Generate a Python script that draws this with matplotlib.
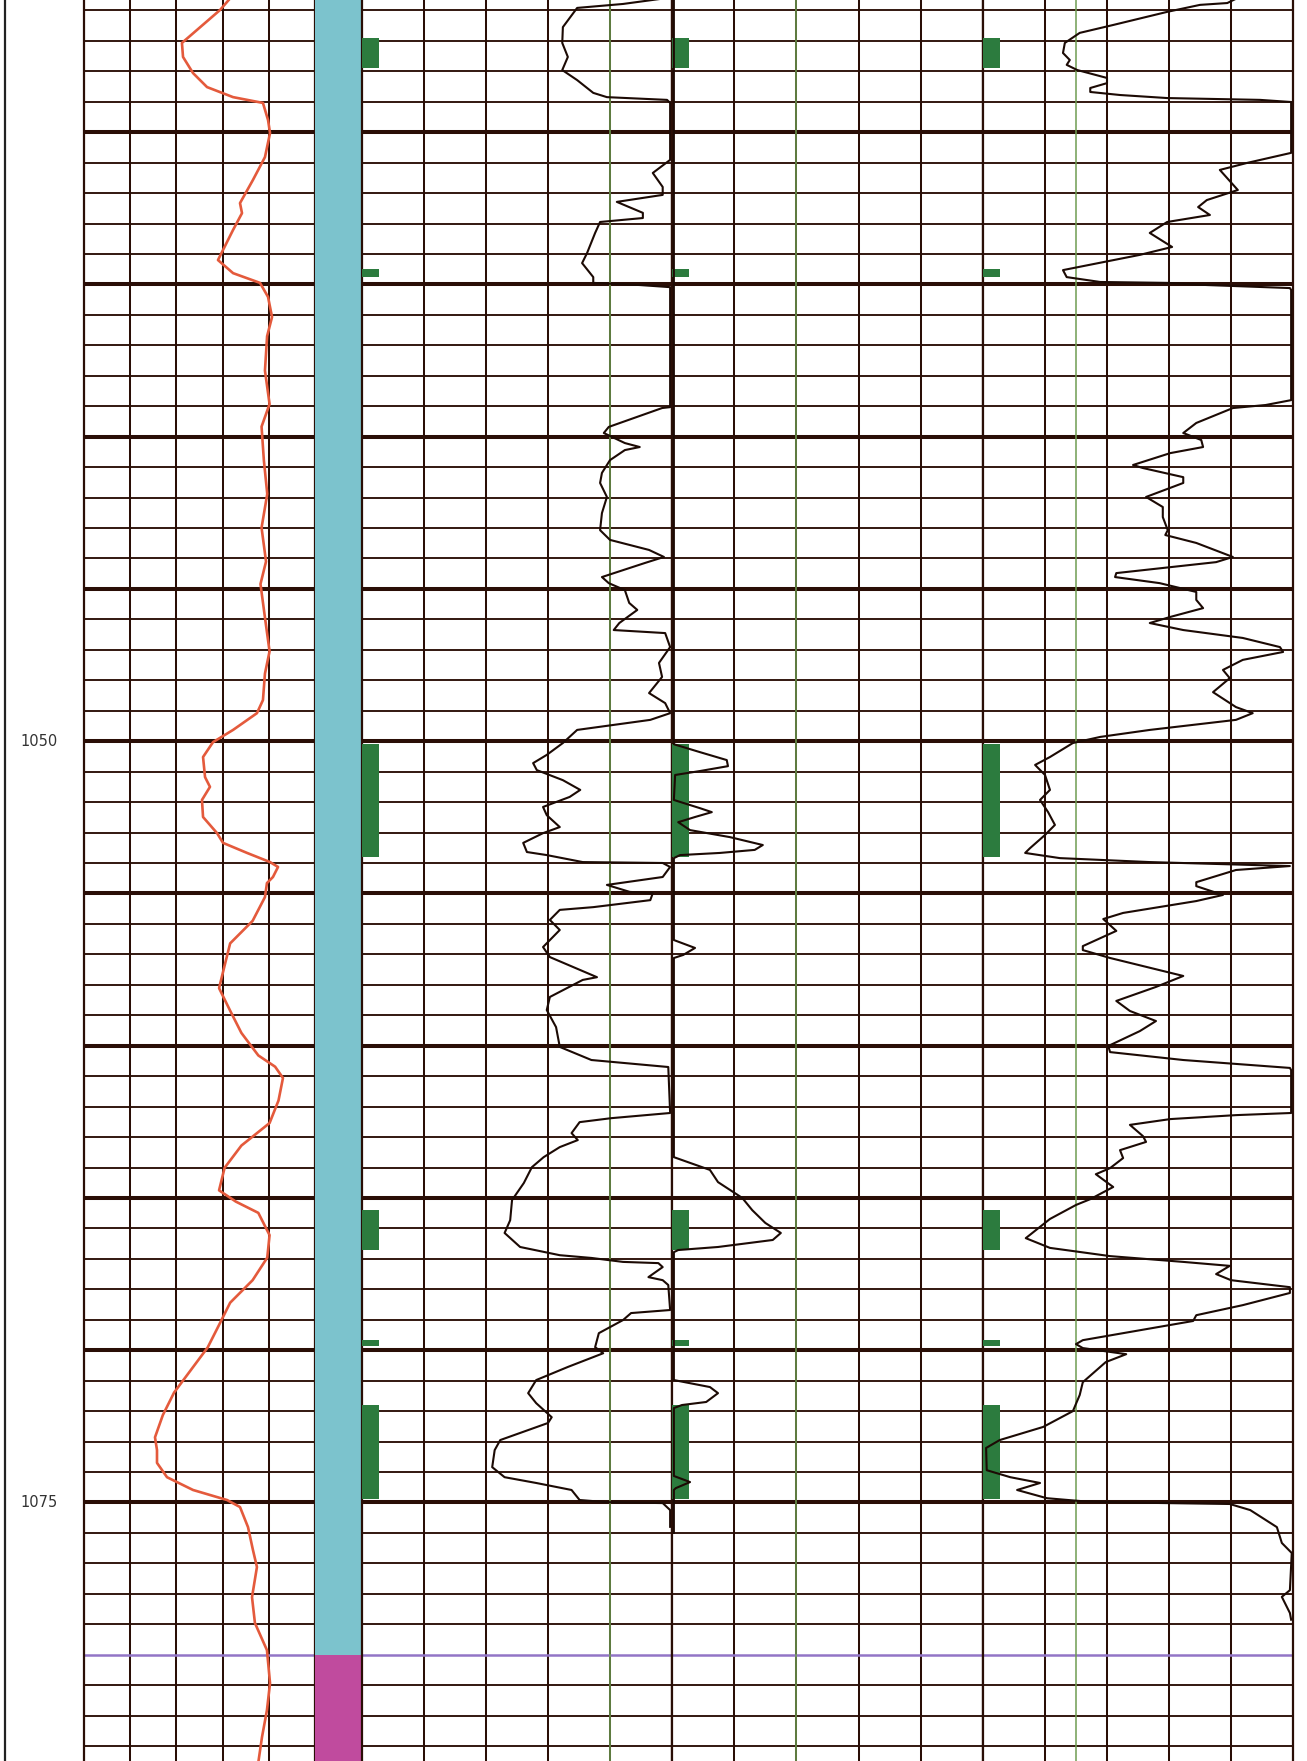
import numpy as np
import matplotlib
matplotlib.use('Agg')
import matplotlib.pyplot as plt

# depth window shown (m)
depth_top = 1025.66
depth_base = 1083.49
depth_labels = [1050, 1075]

# gamma ray (track 1), API
gr_depth = [1025.6, 1025.99, 1027.07, 1027.53, 1028.06, 1028.52, 1028.85, 1029.04, 1029.6, 1030.03,
            1030.82, 1031.57, 1032.33, 1032.66, 1033.21, 1034.2, 1034.63, 1034.95, 1035.41, 1036.07,
            1036.7, 1037.83, 1038.93, 1039.67, 1040.78, 1041.88, 1042.99, 1044.1, 1044.84, 1045.94,
            1047.05, 1047.78, 1048.65, 1049.08, 1049.63, 1050.03, 1050.52, 1051.18, 1051.5, 1051.93,
            1052.49, 1053.02, 1053.34, 1053.67, 1053.97, 1054.13, 1054.46, 1054.66, 1055.12, 1055.9,
            1056.64, 1057.37, 1058.11, 1058.85, 1059.58, 1060.32, 1060.69, 1061.06, 1061.8, 1062.54,
            1063.28, 1064.01, 1064.75, 1065.12, 1065.49, 1066.22, 1066.96, 1067.7, 1068.44, 1069.17,
            1069.91, 1070.65, 1071.39, 1072.13, 1072.86, 1073.28, 1073.7, 1074.17, 1074.59, 1074.92,
            1075.15, 1075.81, 1076.56, 1077.12, 1078.11, 1078.96, 1079.85, 1080.93, 1081.82, 1082.7,
            1083.6]
gr_val = [95, 88.3, 63.6, 64.3, 70.8, 79.9, 96.8, 116.2, 119.5, 120.8,
          117.5, 109.7, 101.3, 102.6, 96.8, 87.0, 96.8, 114.3, 119.5, 122.1,
          118.9, 117.5, 120.5, 115.3, 116.8, 119.0, 115.3, 118.2, 114.6, 117.5,
          120.5, 117.5, 116.2, 112.3, 96.8, 83.8, 77.3, 78.6, 81.8, 76.6,
          77.3, 86.4, 90.3, 105.9, 120.8, 126.0, 122.7, 118.8, 117.5, 109.5,
          94.9, 91.3, 87.7, 94.9, 102.2, 113.2, 124.1, 129.2, 126.3, 120.5,
          102.2, 91.3, 87.7, 98.6, 113.2, 120.5, 119.0, 109.5, 94.9, 87.7,
          80.3, 69.4, 58.5, 51.2, 46.1, 47.4, 47.4, 53.9, 70.8, 92.9,
          101.3, 106.5, 109.7, 112.3, 109.1, 111.0, 118.8, 120.8, 118.8, 115.6,
          113.0]

# track 2 curve
t2_depth = [1025.6, 1025.79, 1025.92, 1026.55, 1027.07, 1027.53, 1027.96, 1028.29, 1028.71, 1028.85,
            1028.94, 1029.04, 1030.91, 1031.34, 1031.8, 1032.06, 1032.29, 1032.65, 1032.82, 1032.95,
            1033.31, 1033.97, 1034.3, 1034.76, 1034.95, 1035.02, 1035.09, 1035.18, 1039.03, 1039.06,
            1039.68, 1039.88, 1040.21, 1040.34, 1040.44, 1040.77, 1041.19, 1041.52, 1041.98, 1042.51,
            1043.07, 1043.39, 1043.72, 1043.95, 1044.15, 1044.61, 1044.81, 1045.04, 1045.46, 1045.69,
            1046.12, 1046.35, 1046.45, 1046.91, 1047.43, 1047.89, 1048.42, 1048.75, 1049.08, 1049.3,
            1049.63, 1050.06, 1050.45, 1050.72, 1050.95, 1051.28, 1051.6, 1051.83, 1052.16, 1052.43,
            1052.82, 1053.02, 1053.34, 1053.64, 1053.74, 1053.97, 1054.0, 1054.13, 1054.46, 1054.72,
            1054.95, 1054.99, 1055.22, 1055.45, 1055.54, 1055.87, 1056.2, 1056.76, 1057.09, 1057.75,
            1057.84, 1058.4, 1058.83, 1059.39, 1060.04, 1060.47, 1060.7, 1062.21, 1062.38, 1062.51,
            1062.87, 1063.1, 1063.33, 1063.66, 1063.99, 1064.51, 1065.07, 1065.73, 1066.15, 1066.61,
            1066.88, 1066.97, 1067.1, 1067.14, 1067.27, 1067.6, 1067.7, 1067.86, 1068.68, 1068.78,
            1069.01, 1069.44, 1069.9, 1070.1, 1070.55, 1070.98, 1071.41, 1071.74, 1072.2, 1072.39,
            1072.95, 1073.28, 1073.84, 1074.17, 1074.36, 1074.59, 1074.92, 1074.99, 1075.02, 1075.25,
            1075.8]
t2_val = [49, 42.1, 34.7, 32.4, 32.3, 33.2, 32.3, 34.7, 37.3, 39.5,
          49.2, 49.7, 49.7, 46.9, 48.5, 48.5, 41.1, 45.3, 45.3, 38.4,
          37.6, 36.3, 35.5, 37.3, 37.3, 44.8, 49.7, 49.7, 49.7, 48.4,
          39.8, 39.0, 42.4, 44.8, 42.4, 40.0, 38.7, 38.4, 39.5, 38.7,
          38.4, 40.0, 46.3, 48.7, 45.6, 38.7, 39.8, 42.4, 43.1, 44.4,
          41.5, 40.6, 48.9, 49.7, 47.9, 48.4, 46.3, 48.9, 49.7, 46.5,
          34.7, 32.4, 29.8, 27.6, 28.2, 32.4, 35.2, 33.5, 29.2, 29.8,
          31.9, 29.2, 26.0, 26.6, 29.8, 35.6, 48.5, 49.7, 48.5, 39.5,
          43.2, 46.9, 46.5, 37.3, 31.9, 30.3, 31.9, 29.2, 30.3, 37.9,
          35.6, 30.3, 29.8, 31.3, 31.9, 37.0, 49.4, 49.7, 40.2, 35.1,
          33.8, 34.8, 31.9, 29.3, 27.4, 26.1, 24.2, 23.9, 23.0, 25.5,
          31.9, 37.0, 42.1, 47.8, 48.5, 46.2, 48.5, 49.4, 49.7, 43.4,
          42.1, 38.2, 37.6, 38.9, 33.2, 28.1, 26.8, 28.1, 30.6, 30.0,
          22.3, 21.4, 21.0, 23.0, 28.1, 33.8, 35.1, 39.5, 48.5, 49.7,
          49.7]

# track 3 curve
t3_depth = [1025.6, 1050.1, 1050.36, 1050.62, 1050.82, 1050.98, 1051.11, 1051.93, 1052.2, 1052.33,
            1052.49, 1052.66, 1052.92, 1053.15, 1053.41, 1053.57, 1053.67, 1053.74, 1053.84, 1056.53,
            1056.79, 1057.02, 1057.12, 1063.43, 1063.66, 1064.08, 1064.48, 1065.0, 1065.4, 1065.82,
            1066.15, 1066.38, 1066.61, 1066.71, 1066.78, 1070.82, 1070.98, 1071.21, 1071.41, 1071.7,
            1071.8, 1071.9, 1074.13, 1074.33, 1074.53, 1074.59, 1076.0]
t3_val = [0.3, 0.3, 4.5, 8.8, 9.0, 4.5, 0.5, 0.3, 4.5, 6.4,
          3.7, 1.0, 2.9, 9.3, 14.6, 13.3, 7.7, 1.3, 0.3, 0.3,
          3.7, 1.8, 0.3, 0.3, 0.3, 6.1, 7.4, 11.3, 12.9, 15.0,
          17.5, 16.2, 7.4, 1.0, 0.3, 0.3, 0.3, 6.1, 7.4, 5.5,
          1.6, 0.3, 0.3, 2.9, 0.6, 0.3, 0.3]

# track 4 curve
t4_depth = [1025.6, 1025.76, 1025.82, 1026.05, 1026.48, 1026.74, 1027.07, 1027.4, 1027.63, 1027.79,
            1027.96, 1028.22, 1028.39, 1028.55, 1028.68, 1028.78, 1028.88, 1028.94, 1029.01, 1030.68,
            1031.01, 1031.24, 1031.9, 1032.23, 1032.46, 1032.72, 1032.95, 1033.31, 1033.77, 1034.03,
            1034.53, 1034.76, 1034.92, 1034.95, 1035.02, 1035.12, 1035.18, 1038.8, 1038.96, 1039.06,
            1039.55, 1039.88, 1040.11, 1040.34, 1040.54, 1040.93, 1041.03, 1041.33, 1041.52, 1041.98,
            1042.31, 1042.64, 1043.07, 1043.23, 1043.49, 1043.95, 1044.12, 1044.48, 1044.61, 1044.81,
            1045.1, 1045.36, 1045.63, 1045.92, 1046.12, 1046.35, 1046.61, 1046.91, 1047.07, 1047.33,
            1047.66, 1047.93, 1048.39, 1048.88, 1049.08, 1049.3, 1049.63, 1049.86, 1050.06, 1050.52,
            1050.78, 1051.11, 1051.6, 1051.93, 1052.33, 1052.75, 1053.08, 1053.51, 1053.67, 1053.84,
            1053.97, 1054.1, 1054.23, 1054.63, 1054.76, 1055.05, 1055.25, 1055.64, 1055.84, 1056.23,
            1056.73, 1056.86, 1057.12, 1057.71, 1058.07, 1058.53, 1058.86, 1059.19, 1059.52, 1060.01,
            1060.21, 1060.47, 1060.73, 1060.8, 1062.21, 1062.28, 1062.41, 1062.6, 1062.97, 1063.16,
            1063.43, 1063.69, 1064.02, 1064.22, 1064.64, 1065.04, 1065.23, 1065.69, 1066.32, 1066.64,
            1066.91, 1067.1, 1067.23, 1067.5, 1067.7, 1067.93, 1068.12, 1068.52, 1068.85, 1069.04,
            1069.44, 1069.67, 1069.8, 1069.93, 1070.13, 1070.39, 1071.05, 1071.47, 1072.0, 1072.52,
            1072.95, 1073.21, 1073.94, 1074.17, 1074.36, 1074.59, 1074.86, 1074.96, 1075.0, 1075.05,
            1075.25, 1075.81, 1076.33, 1076.66, 1077.88, 1078.1, 1078.63, 1078.85]
t4_val = [41, 39.4, 35.0, 29.7, 21.0, 15.6, 13.2, 12.9, 14.0, 13.5,
          15.2, 20.0, 20.0, 17.3, 17.3, 22.1, 29.7, 44.7, 49.7, 49.7,
          42.6, 38.2, 41.1, 36.1, 34.7, 36.6, 29.7, 26.9, 30.5, 25.3,
          12.9, 13.5, 18.9, 29.7, 36.1, 49.5, 49.7, 49.7, 45.6, 40.3,
          34.4, 32.3, 35.2, 35.5, 30.2, 24.2, 25.8, 32.3, 32.3, 26.3,
          29.0, 29.0, 29.8, 29.4, 34.4, 40.3, 37.6, 21.5, 21.3, 28.5,
          34.4, 34.4, 35.5, 30.2, 26.9, 32.3, 41.9, 47.9, 48.4, 41.9,
          38.7, 39.8, 37.1, 40.8, 43.5, 40.8, 26.9, 18.9, 14.5, 10.8,
          8.4, 10.0, 10.8, 9.2, 10.5, 11.6, 10.0, 7.6, 6.8, 12.4,
          26.9, 49.5, 40.8, 34.4, 34.4, 38.7, 34.4, 22.6, 19.4, 21.5,
          16.1, 16.1, 20.5, 32.3, 27.9, 21.5, 23.7, 27.9, 25.3, 20.2,
          20.5, 32.3, 49.5, 49.7, 49.7, 40.8, 30.2, 23.7, 25.8, 26.3,
          22.1, 22.6, 20.5, 18.2, 21.0, 17.3, 15.0, 10.8, 6.9, 10.8,
          20.5, 32.3, 39.8, 37.6, 40.0, 49.5, 49.5, 41.9, 34.4, 33.9,
          22.6, 16.1, 15.0, 16.1, 23.1, 19.8, 16.1, 15.6, 14.5, 9.7,
          2.7, 0.5, 0.6, 4.4, 9.2, 5.5, 10.3, 16.1, 22.6, 39.8,
          43.1, 47.4, 48.2, 49.8, 49.5, 48.2, 49.5, 49.7]

# flagged intervals (green marks in tracks 2-4)
flag_top = [1026.9, 1034.5, 1050.1, 1065.4, 1069.65, 1071.8]
flag_base = [1027.9, 1034.75, 1053.8, 1066.7, 1069.85, 1074.9]

# lithology column
lith_top = [1025.0, 1080.0]
lith_base = [1080.0, 1084.0]
lith_name = ['sand', 'shale']

# track scales
gr_range = (0, 150)
trk_range = (0, 50)
cutoffs = [40, 20, 15]

lith_colors = {'sand': '#7cc3cd', 'shale': '#c04b9e'}
grid_c = '#2a0e06'
curve_c = '#1c0a04'
flag_c = '#2c7b3e'
cut_c = '#6f9d52'
bound_c = '#9275c6'

W, H = 1307, 1761
fig = plt.figure(figsize=(W / 100, H / 100), dpi=100)
fig.patch.set_facecolor('white')


def px_axes(x0, x1):
    ax = fig.add_axes([x0 / W, 0, (x1 - x0) / W, 1])
    ax.set_ylim(depth_base, depth_top)
    ax.set_xticks([])
    ax.set_yticks([])
    for s in ['top', 'bottom']:
        ax.spines[s].set_visible(False)
    return ax


def draw_grid(ax, xr, cols=5):
    for d in np.arange(1026, 1084):
        if d in lith_top[1:]:
            continue
        lw = 2.9 if d % 5 == 0 else 1.35
        ax.axhline(d, color=grid_c, lw=lw, zorder=1)
    for x in np.linspace(xr[0], xr[1], cols + 1)[1:-1]:
        ax.axvline(x, color=grid_c, lw=1.45, zorder=1)
    ax.set_xlim(*xr)
    for s in ['left', 'right']:
        ax.spines[s].set_color(grid_c)
        ax.spines[s].set_linewidth(1.6)
    for b in lith_top[1:]:
        ax.axhline(b, color=bound_c, lw=1.8, zorder=2)


# depth column
axd = px_axes(5, 84)
axd.spines['right'].set_visible(False)
axd.spines['left'].set_color('#222222')
axd.spines['left'].set_linewidth(1.6)
axd.set_xlim(0, 1)
for d in depth_labels:
    axd.text(0.2, d, str(d), fontsize=10.5, color='#333333', ha='left', va='center')

# track 1 - GR
ax1 = px_axes(84, 315)
draw_grid(ax1, gr_range)
ax1.plot(gr_val, gr_depth, color='#e45a3c', lw=1.9, zorder=4)

# lithology column
axl = px_axes(315, 362)
axl.set_xlim(0, 1)
for s in ['left', 'right']:
    axl.spines[s].set_visible(False)
for t, b, n in zip(lith_top, lith_base, lith_name):
    axl.axhspan(t, b, color=lith_colors[n], lw=0)

# tracks 2-4
edges = [(362, 672), (672, 983), (983, 1293)]
curves = [(t2_val, t2_depth), (t3_val, t3_depth), (t4_val, t4_depth)]
for (x0, x1), (vals, deps), cut in zip(edges, curves, cutoffs):
    ax = px_axes(x0, x1)
    draw_grid(ax, trk_range)
    ax.axvline(cut, color=cut_c, lw=1.1, zorder=2)
    tops = np.array(flag_top)
    bases = np.array(flag_base)
    ax.barh((tops + bases) / 2, 2.7, height=bases - tops, left=0,
            color=flag_c, zorder=3)
    ax.plot(vals, deps, color=curve_c, lw=1.5, zorder=4)

fig.savefig('out.png', dpi=100, facecolor='white')
plt.close()
